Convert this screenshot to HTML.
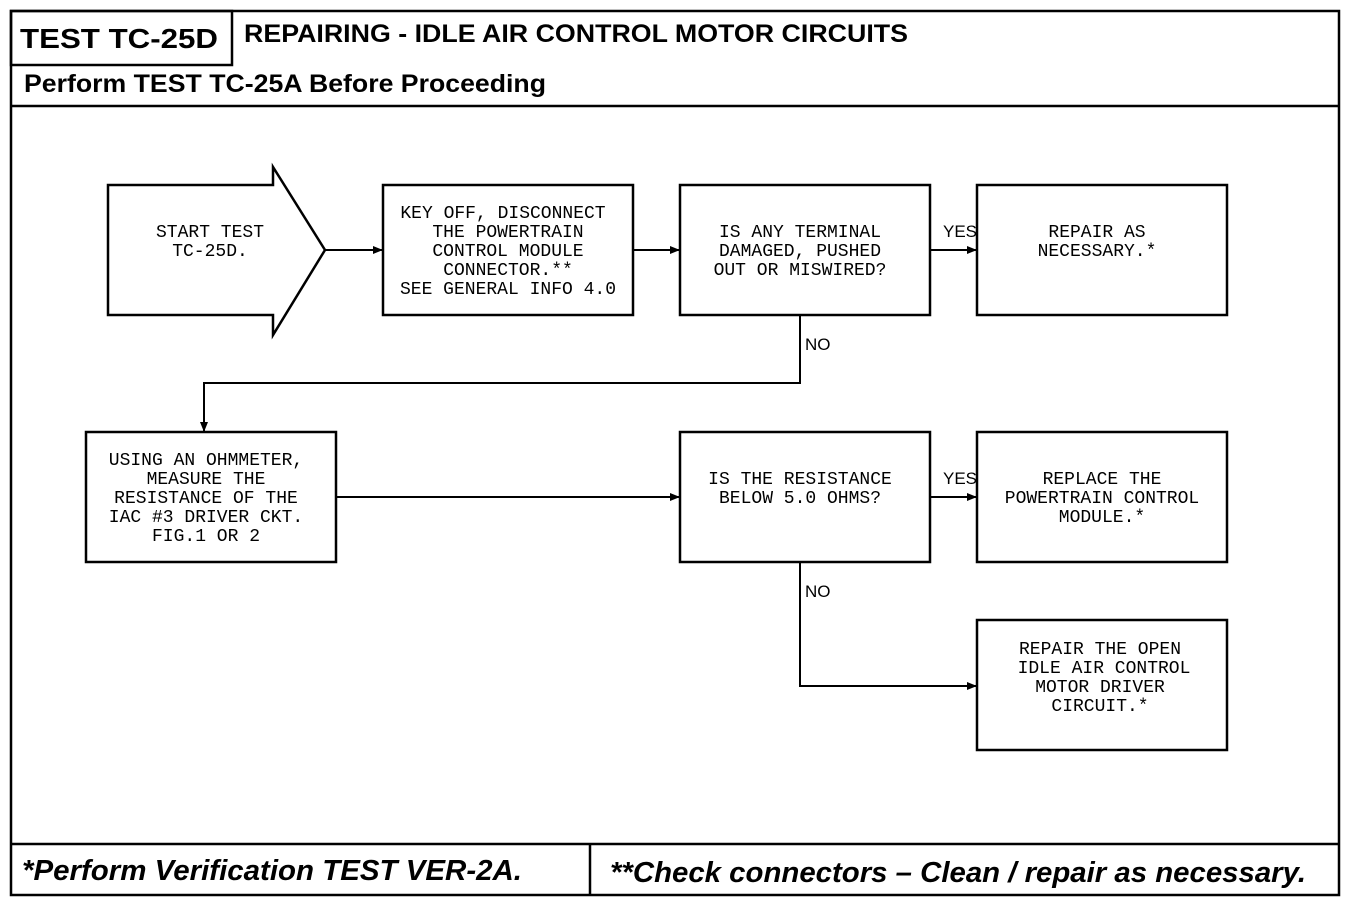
<!DOCTYPE html>
<html><head><style>
html,body{margin:0;padding:0;background:#fff;}
svg{display:block;}
.t{font-family:"Liberation Mono",monospace;font-size:18px;fill:#000;}
.h{font-family:"Liberation Sans",sans-serif;font-weight:bold;fill:#000;}
</style></head><body>
<svg width="1360" height="904" viewBox="0 0 1360 904" xmlns="http://www.w3.org/2000/svg">
<defs><marker id="a" markerWidth="10" markerHeight="8" refX="10" refY="4" orient="auto" markerUnits="userSpaceOnUse"><path d="M0,0 L10,4 L0,8 z" fill="#000"/></marker></defs>
<g fill="none" stroke="#000" stroke-width="2.5">
<rect x="11" y="11" width="1328" height="884"/>
<rect x="11" y="11" width="221" height="54"/>
<line x1="11" y1="106" x2="1339" y2="106"/>
<line x1="11" y1="844" x2="1339" y2="844"/>
<line x1="590" y1="844" x2="590" y2="895"/>
<path d="M108,185 L273,185 L273,167 L325,250 L273,335 L273,315 L108,315 Z"/>
<rect x="383" y="185" width="250" height="130"/>
<rect x="680" y="185" width="250" height="130"/>
<rect x="977" y="185" width="250" height="130"/>
<rect x="86" y="432" width="250" height="130"/>
<rect x="680" y="432" width="250" height="130"/>
<rect x="977" y="432" width="250" height="130"/>
<rect x="977" y="620" width="250" height="130"/>
</g>
<g fill="none" stroke="#000" stroke-width="2">
<line x1="325" y1="250" x2="383" y2="250" marker-end="url(#a)"/>
<line x1="633" y1="250" x2="680" y2="250" marker-end="url(#a)"/>
<line x1="930" y1="250" x2="977" y2="250" marker-end="url(#a)"/>
<path d="M800,315 L800,383 L204,383 L204,432" marker-end="url(#a)"/>
<line x1="336" y1="497" x2="680" y2="497" marker-end="url(#a)"/>
<line x1="930" y1="497" x2="977" y2="497" marker-end="url(#a)"/>
<path d="M800,562 L800,686 L977,686" marker-end="url(#a)"/>
</g>
<text class="h" x="20" y="48" font-size="28" textLength="198" lengthAdjust="spacingAndGlyphs">TEST TC-25D</text>
<text class="h" x="244" y="42" font-size="25" textLength="664" lengthAdjust="spacingAndGlyphs">REPAIRING - IDLE AIR CONTROL MOTOR CIRCUITS</text>
<text class="h" x="24" y="92" font-size="25" textLength="522" lengthAdjust="spacingAndGlyphs">Perform TEST TC-25A Before Proceeding</text>
<text class="h" x="22" y="880" font-size="29" font-style="italic" textLength="500" lengthAdjust="spacingAndGlyphs">*Perform Verification TEST VER-2A.</text>
<text class="h" x="610" y="882" font-size="29" font-style="italic" textLength="696" lengthAdjust="spacingAndGlyphs">**Check connectors – Clean / repair as necessary.</text>
<g class="t" text-anchor="middle">
<text x="210" y="237">START TEST</text><text x="210" y="256">TC-25D.</text>
<text x="503" y="218">KEY OFF, DISCONNECT</text><text x="508" y="237">THE POWERTRAIN</text><text x="508" y="256">CONTROL MODULE</text><text x="508" y="275">CONNECTOR.**</text><text x="508" y="294">SEE GENERAL INFO 4.0</text>
<text x="800" y="237">IS ANY TERMINAL</text><text x="800" y="256">DAMAGED, PUSHED</text><text x="800" y="275">OUT OR MISWIRED?</text>
<text x="1097" y="237">REPAIR AS</text><text x="1097" y="256">NECESSARY.*</text>
<text x="206" y="465">USING AN OHMMETER,</text><text x="206" y="484">MEASURE THE</text><text x="206" y="503">RESISTANCE OF THE</text><text x="206" y="522">IAC #3 DRIVER CKT.</text><text x="206" y="541">FIG.1 OR 2</text>
<text x="800" y="484">IS THE RESISTANCE</text><text x="800" y="503">BELOW 5.0 OHMS?</text>
<text x="1102" y="484">REPLACE THE</text><text x="1102" y="503">POWERTRAIN CONTROL</text><text x="1102" y="522">MODULE.*</text>
<text x="1100" y="654">REPAIR THE OPEN</text><text x="1104" y="673">IDLE AIR CONTROL</text><text x="1100" y="692">MOTOR DRIVER</text><text x="1100" y="711">CIRCUIT.*</text>
</g>
<g font-family="Liberation Sans" font-size="17" fill="#000">
<text x="943" y="237">YES</text>
<text x="943" y="484">YES</text>
<text x="805" y="350">NO</text>
<text x="805" y="597">NO</text>
</g>
</svg>
</body></html>
